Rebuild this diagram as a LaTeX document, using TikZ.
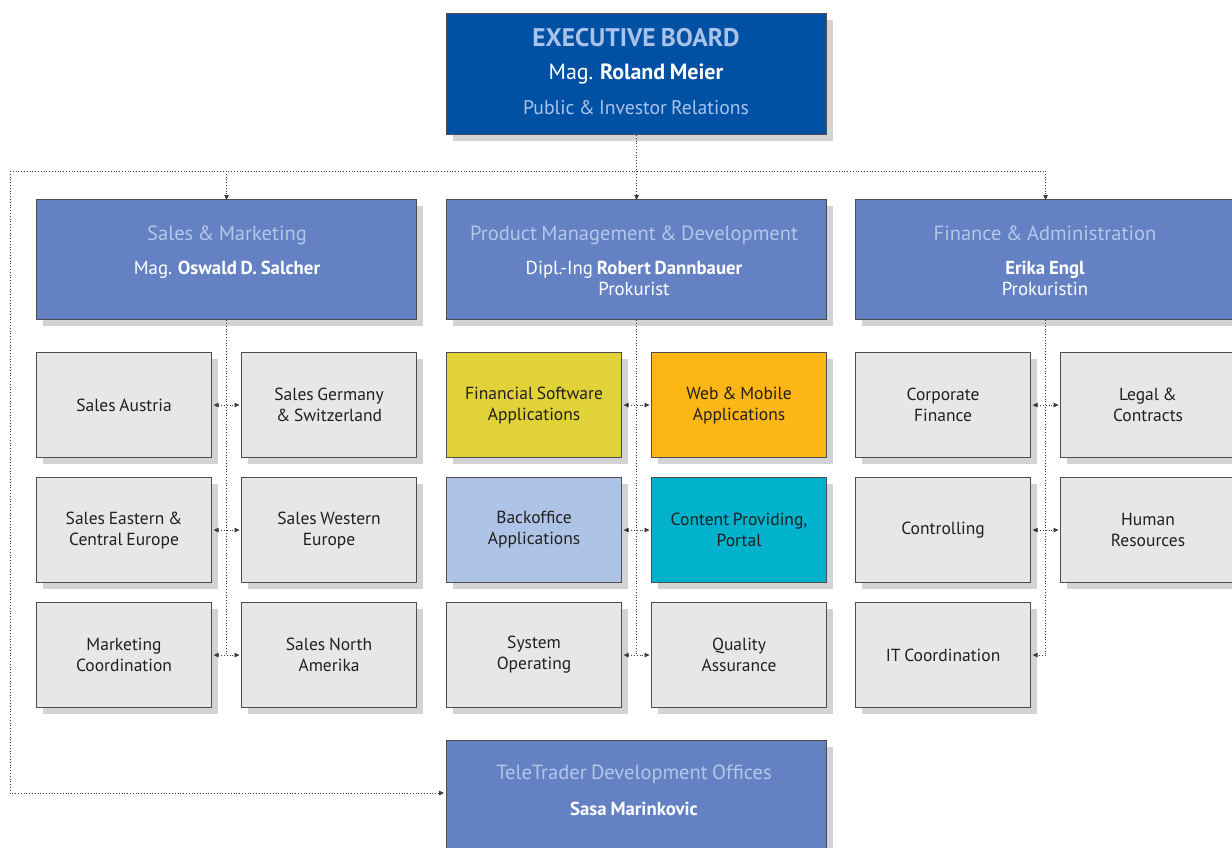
\documentclass[tikz,border=0pt]{standalone}
\usepackage{fontspec}
\setmainfont[WordSpace=0.8]{PT Sans}
\usetikzlibrary{shadows,arrows.meta}
\definecolor{execblue}{HTML}{0050A4}
\definecolor{exectitle}{HTML}{A9C3EA}
\definecolor{deptblue}{HTML}{6482C3}
\definecolor{depttitle}{HTML}{B3C7EA}
\definecolor{boxgray}{HTML}{E6E7E8}
\definecolor{shadowgray}{HTML}{D1D3D4}
\definecolor{boxline}{HTML}{4D4D4F}
\definecolor{txtdark}{HTML}{231F20}
\definecolor{cyellow}{HTML}{E1D238}
\definecolor{corange}{HTML}{FDB714}
\definecolor{clblue}{HTML}{AEC4E6}
\definecolor{ccyan}{HTML}{00B2CC}
\definecolor{linegray}{HTML}{3A3A3A}
\newcommand{\fsz}[2]{\fontsize{#1}{#2}\selectfont}
\tikzset{
  boxbase/.style={draw=boxline, line width=1.1pt, anchor=north west, inner sep=0pt,
    drop shadow={shadow xshift=6pt, shadow yshift=-6pt, fill=shadowgray, opacity=1}},
  gbox/.style={boxbase, fill=boxgray, minimum width=175pt, minimum height=105pt,
    align=center, text=txtdark, font=\fsz{17.5}{21}},
  dbox/.style={boxbase, fill=deptblue, minimum width=380pt, minimum height=120pt},
  ebox/.style={boxbase, fill=execblue, minimum width=380pt, minimum height=121pt},
  ttl/.style={text=depttitle, font=\fsz{20.5}{22}, inner sep=0pt, anchor=base},
  nm/.style={text=white, font=\fsz{18.8}{20}, inner sep=0pt, anchor=base},
  dotl/.style={draw=linegray, dotted, line width=0.8pt},
  tip/.style={-{Triangle[length=5pt,width=4.5pt]}},
  tips/.style={{Triangle[length=5pt,width=4.5pt]}-{Triangle[length=5pt,width=4.5pt]}},
}
\begin{document}
\begin{tikzpicture}[x=1pt,y=-1pt]
\useasboundingbox (0,0) rectangle (1232,848);
\clip (0,0) rectangle (1232,848);
% executive board
\node[ebox] (eb) at (446,13) {};
\node[text=exectitle, font=\bfseries\fsz{25.5}{26}, inner sep=0pt, anchor=base] (ebt) at (636,47) {EXECUTIVE BOARD};
\node[text=white, font=\fsz{22}{24}, inner sep=0pt, anchor=base] (ebn) at (636,80) {Mag. \textbf{Roland Meier}};
\node[text=exectitle, font=\fsz{19.7}{21}, inner sep=0pt, anchor=base] (ebr) at (636,115) {Public \& Investor Relations};
% departments
\node[dbox] (sm) at (36,199) {};
\node[dbox] (pm) at (446,199) {};
\node[dbox] (fa) at (855,199) {};
\node[ttl] at (227,240) {Sales \& Marketing};
\node[nm] at (227,274) {Mag. \textbf{Oswald D. Salcher}};
\node[ttl] at (634,240) {Product Management \& Development};
\node[nm] at (634,274) {Dipl.-Ing \textbf{Robert Dannbauer}};
\node[nm] at (634,295) {Prokurist};
\node[ttl] at (1045,240) {Finance \& Administration};
\node[nm] at (1045,274) {\textbf{Erika Engl}};
\node[nm] at (1045,295) {Prokuristin};
% sales boxes
\node[gbox] (sa) at (36,352) {Sales Austria};
\node[gbox] (sg) at (241,352) {Sales Germany\\\& Switzerland};
\node[gbox] (se) at (36,477) {Sales Eastern \&\\Central Europe};
\node[gbox] (sw) at (241,477) {Sales Western\\Europe};
\node[gbox] (mc) at (36,602) {Marketing\\Coordination};
\node[gbox] (sn) at (241,602) {Sales North\\Amerika};
% product boxes
\node[gbox, fill=cyellow] (fs) at (446,352) {Financial Software\\Applications};
\node[gbox, fill=corange] (wm) at (651,352) {Web \& Mobile\\Applications};
\node[gbox, fill=clblue] (bo) at (446,477) {Backoffice\\Applications};
\node[gbox, fill=ccyan] (cp) at (651,477) {Content Providing,\\Portal};
\node[gbox] (so) at (446,602) {System\\Operating};
\node[gbox] (qa) at (651,602) {Quality\\Assurance};
% finance boxes
\node[gbox] (cf) at (855,352) {Corporate\\Finance};
\node[gbox] (lc) at (1060,352) {Legal \&\\Contracts};
\node[gbox] (co) at (855,477) {Controlling};
\node[gbox] (hr) at (1060,477) {Human\\Resources};
\node[gbox] (it) at (855,602) {IT Coordination};
% bottom
\node[dbox, minimum height=130pt] (tt) at (446,740) {};
\node[ttl] at (634,779) {TeleTrader Development Offices};
\node[nm] at (634,815) {\textbf{Sasa Marinkovic}};
% connectors
\coordinate (hy) at (10,171);
\coordinate (ly) at (10,793);
\draw[dotl] (hy) -- (fa.north |- hy);
\draw[dotl, tip] (eb.south) -- ([yshift=-1pt]pm.north);
\draw[dotl, tip] (sm.north |- hy) -- ([yshift=-1pt]sm.north);
\draw[dotl, tip] (fa.north |- hy) -- ([yshift=-1pt]fa.north);
\draw[dotl, tip] (hy) -- (ly) -- ([xshift=-2pt]tt.west |- ly);
% vertical spines
\draw[dotl] (sm.south) -- (sm.south |- mc.east);
\draw[dotl] (pm.south) -- (pm.south |- so.east);
\draw[dotl] (fa.south) -- (fa.south |- it.east);
% horizontal arrows
\foreach \a/\b in {sa/sg,se/sw,mc/sn,fs/wm,bo/cp,so/qa,cf/lc,co/hr}{
  \draw[dotl, tips, shorten <=1.5pt, shorten >=1.5pt] (\a.east) -- (\b.west);
}
\draw[dotl, tip, shorten >=1.5pt] (fa.south |- it.east) -- (it.east);
\end{tikzpicture}
\end{document}
